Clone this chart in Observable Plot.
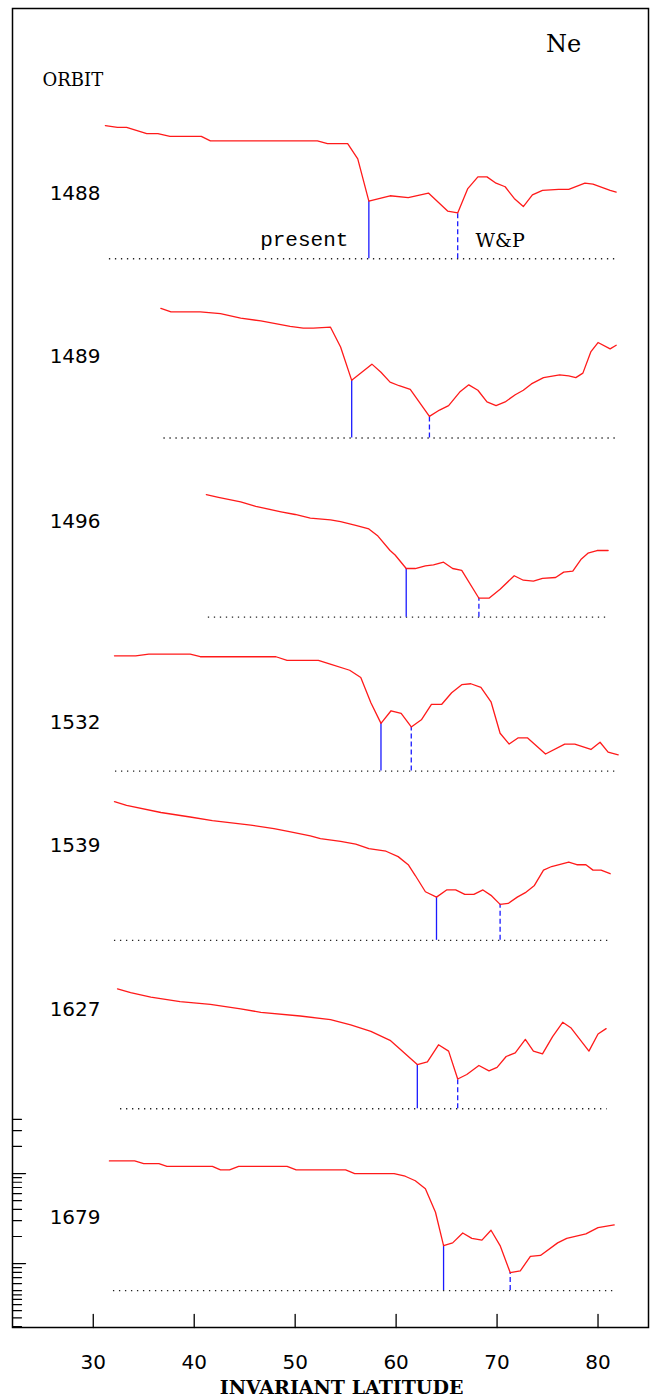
<!DOCTYPE html>
<html><head><meta charset="utf-8">
<script src="https://cdn.jsdelivr.net/npm/d3@7"></script>
<script src="https://cdn.jsdelivr.net/npm/@observablehq/plot@0.6"></script>
<style>body{margin:0;background:#fff}</style>
</head><body><div id="chart"></div>
<script>
// ---- data (latitude in degrees, Ne level in decades above each orbit's baseline) ----
const orbits = ["1488","1489","1496","1532","1539","1627","1679"];
const offsets = [11.16, 9.17, 7.18, 5.47, 3.59, 1.72, -0.30];   // stacking offset (decades)
const baseStart = [31.6, 37.0, 41.4, 32.2, 32.1, 32.7, 32.0];
const baseEnd   = [81.9, 81.9, 81.0, 81.9, 81.2, 80.9, 81.8];
const presentLat = [57.3, 55.6, 61.0, 58.5, 64.0, 62.1, 64.7];
const wpLat      = [66.1, 63.3, 68.2, 61.5, 70.3, 66.1, 71.3];
const labelY = [11.88, 10.07, 8.24, 6.01, 4.64, 2.82, 0.51];

const lat1488 = [31.2,32.4,33.3,35.3,36.4,37.6,40.7,41.6,52.2,53.2,55.2,56.2,57.3,59.4,61.2,63.2,65.1,66.1,67.1,68.1,69.0,69.9,70.8,71.7,72.6,73.5,74.5,76.1,77.1,78.7,79.5,81.2,81.8];
const ne1488  = [1.48,1.46,1.46,1.39,1.39,1.36,1.36,1.31,1.31,1.28,1.28,1.11,0.64,0.70,0.68,0.73,0.53,0.51,0.78,0.91,0.91,0.84,0.80,0.67,0.58,0.71,0.76,0.77,0.77,0.84,0.83,0.76,0.74];

const lat1489 = [36.7,37.7,40.6,42.6,44.6,46.6,49.5,50.8,51.8,53.5,54.5,55.6,57.6,58.5,59.4,60.3,61.4,63.3,64.3,65.2,66.3,67.2,68.1,69.0,69.9,70.8,71.8,72.6,73.4,74.6,76.2,77.1,77.8,78.5,79.3,80.0,81.2,81.8];
const ne1489  = [1.44,1.40,1.40,1.38,1.33,1.30,1.24,1.22,1.22,1.23,1.01,0.64,0.82,0.73,0.62,0.58,0.54,0.24,0.31,0.36,0.51,0.59,0.53,0.40,0.36,0.40,0.48,0.53,0.60,0.67,0.70,0.69,0.67,0.72,0.96,1.06,0.99,1.03];

const lat1496 = [41.2,42.4,44.6,46.1,48.6,50.0,51.5,53.5,54.5,56.0,57.3,58.2,59.4,59.9,61.0,61.9,62.9,63.7,64.7,65.6,66.5,68.2,69.2,70.3,71.7,72.6,73.6,74.5,75.8,76.6,77.5,78.3,79.0,79.9,81.0];
const ne1496  = [1.36,1.33,1.28,1.23,1.17,1.14,1.10,1.08,1.06,1.02,0.98,0.90,0.74,0.69,0.54,0.54,0.57,0.58,0.61,0.54,0.52,0.21,0.21,0.31,0.46,0.41,0.40,0.43,0.44,0.50,0.51,0.64,0.71,0.74,0.74];

const lat1532 = [32.1,34.2,35.5,39.6,40.6,48.1,49.2,52.3,53.4,55.4,56.5,57.5,58.5,59.5,60.5,61.5,62.5,63.5,64.5,65.5,66.5,67.4,68.4,69.4,70.3,71.2,72.1,73.0,74.8,76.7,77.7,79.3,80.2,81.0,82.0];
const ne1532  = [1.28,1.28,1.30,1.30,1.27,1.27,1.23,1.23,1.19,1.12,1.04,0.76,0.53,0.67,0.64,0.49,0.57,0.74,0.74,0.87,0.96,0.97,0.93,0.77,0.42,0.30,0.37,0.37,0.19,0.30,0.30,0.24,0.32,0.21,0.18];

const lat1539 = [32.1,33.3,36.7,39.6,41.8,45.6,47.9,49.3,51.5,52.5,54.5,56.0,57.3,59.0,60.2,61.2,61.9,62.9,64.0,65.0,65.9,66.8,67.7,68.6,69.4,70.3,71.1,72.0,72.8,73.7,74.6,75.4,77.1,77.9,78.8,79.5,80.3,81.2];
const ne1539  = [1.54,1.50,1.42,1.37,1.33,1.28,1.24,1.21,1.16,1.13,1.10,1.07,1.02,0.99,0.93,0.84,0.72,0.54,0.48,0.56,0.56,0.51,0.51,0.56,0.50,0.40,0.41,0.48,0.53,0.61,0.78,0.82,0.87,0.84,0.84,0.78,0.78,0.74];

const lat1627 = [32.4,33.7,35.7,38.6,41.6,44.6,46.6,50.5,53.5,55.5,57.5,59.4,60.6,61.4,62.1,63.1,64.2,65.2,66.1,67.0,68.2,69.2,70.0,70.9,71.8,72.8,73.6,74.5,75.5,76.5,77.3,79.1,80.0,80.8];
const ne1627  = [1.33,1.29,1.24,1.19,1.16,1.11,1.07,1.03,0.99,0.93,0.86,0.76,0.64,0.56,0.49,0.52,0.71,0.64,0.33,0.38,0.48,0.42,0.46,0.58,0.62,0.77,0.64,0.61,0.80,0.96,0.90,0.64,0.83,0.89];

const lat1679 = [31.6,34.1,35.0,35.7,36.5,37.3,41.8,42.6,43.5,44.4,49.2,50.1,55.0,55.9,59.8,60.9,61.9,62.9,63.9,64.7,65.6,66.6,67.5,68.5,69.4,70.3,71.3,72.3,73.3,74.3,76.0,76.9,78.8,80.0,81.6];
const ne1679  = [1.44,1.44,1.41,1.41,1.41,1.38,1.38,1.34,1.34,1.38,1.38,1.34,1.34,1.30,1.30,1.27,1.22,1.13,0.87,0.50,0.53,0.64,0.58,0.56,0.67,0.50,0.20,0.22,0.38,0.39,0.53,0.58,0.63,0.70,0.73];

const xTicks = [30, 40, 50, 60, 70, 80];
const yMajorTicks = [0, 1];
const yMinorTicks = [-0.699, -0.602, -0.523, -0.456, -0.398, -0.347, -0.301, -0.222, -0.155, -0.097, -0.046,
                     0.301, 0.477, 0.602, 0.699, 0.778, 0.845, 0.903, 0.954, 1.301, 1.477, 1.602];
const xDomain = [22, 85];
const yDomain = [-0.71, 13.94];

// ---- build tables ----
const traceLat = [lat1488, lat1489, lat1496, lat1532, lat1539, lat1627, lat1679];
const traceNe  = [ne1488, ne1489, ne1496, ne1532, ne1539, ne1627, ne1679];
const rows = [];
orbits.forEach((o, i) => traceLat[i].forEach((x, j) => rows.push({orbit: o, lat: x, y: offsets[i] + traceNe[i][j]})));
const at = (i, lat) => {
  const L = traceLat[i]; let b = 0;
  L.forEach((x, j) => { if (Math.abs(x - lat) < Math.abs(L[b] - lat)) b = j; });
  return offsets[i] + traceNe[i][b];
};
const markers = orbits.map((o, i) => ({
  orbit: o, base: offsets[i], start: baseStart[i], end: baseEnd[i],
  present: presentLat[i], presentTop: at(i, presentLat[i]),
  wp: wpLat[i], wpTop: at(i, wpLat[i]), labelY: labelY[i]
}));
const tickShape = {draw(ctx, l) { ctx.moveTo(0, 0); ctx.lineTo(0, -l); }};

const chart = Plot.plot({
  width: 651, height: 1397,
  marginTop: 8, marginBottom: 70, marginLeft: 12, marginRight: 3,
  x: {domain: xDomain, axis: null},
  y: {domain: yDomain, axis: null},
  marks: [
    Plot.ruleY(markers, {y: "base", x1: "start", x2: "end", stroke: "#222", strokeWidth: 1.4, strokeDasharray: "1.3,4.7"}),
    Plot.ruleX(markers, {x: "present", y1: "base", y2: "presentTop", stroke: "#1a1aff", strokeWidth: 1.3}),
    Plot.ruleX(markers, {x: "wp", y1: "base", y2: "wpTop", stroke: "#1a1aff", strokeWidth: 1.3, strokeDasharray: "5,3"}),
    Plot.line(rows, {x: "lat", y: "y", z: "orbit", stroke: "#ff1a1a", strokeWidth: 1.3}),
    Plot.vector(yMajorTicks, {x: () => xDomain[0], y: d => d, length: 13, rotate: 90, anchor: "start", shape: tickShape, stroke: "black", strokeWidth: 1.3}),
    Plot.vector(yMinorTicks, {x: () => xDomain[0], y: d => d, length: 9, rotate: 90, anchor: "start", shape: tickShape, stroke: "black", strokeWidth: 1.2}),
    Plot.vector(xTicks, {x: d => d, y: () => yDomain[0], length: 13, rotate: 0, anchor: "start", shape: tickShape, stroke: "black", strokeWidth: 1.3}),
    Plot.text(xTicks, {x: d => d, y: () => yDomain[0], text: d => String(d), dy: 35, fontSize: 20, fontFamily: "DejaVu Sans", fill: "black"}),
    Plot.text(["INVARIANT LATITUDE"], {x: () => 54.6, y: () => yDomain[0], text: d => d, dy: 60, fontSize: 19, fontWeight: "bold", fontFamily: "DejaVu Serif", fill: "black"}),
    Plot.text(markers, {x: () => 28.2, y: "labelY", text: "orbit", fontSize: 20, fontFamily: "DejaVu Sans", fill: "black"}),
    Plot.text(["ORBIT"], {x: () => 24.97, y: () => 13.14, text: d => d, textAnchor: "start", fontSize: 18, fontFamily: "DejaVu Serif", fill: "black"}),
    Plot.text(["Ne"], {x: () => 76.6, y: () => 13.54, text: d => d, fontSize: 24, fontFamily: "DejaVu Serif", fill: "black"}),
    Plot.text(["present"], {x: () => 50.9, y: () => 11.38, text: d => d, fontSize: 21, fontFamily: "Liberation Mono", fill: "black"}),
    Plot.text(["W&P"], {x: () => 70.3, y: () => 11.36, text: d => d, fontSize: 19, fontFamily: "DejaVu Serif", fill: "black"}),
    Plot.frame({stroke: "black", strokeWidth: 1.5})
  ]
});
document.getElementById("chart").append(chart);
</script>
</body></html>
